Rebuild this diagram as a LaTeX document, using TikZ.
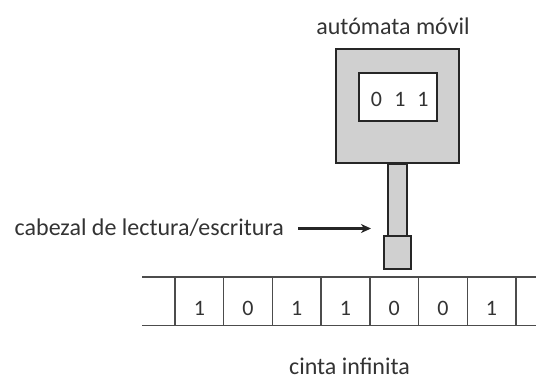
\documentclass[tikz,border=0pt]{standalone}
\usepackage{fontspec}
\setmainfont{Carlito}
\usetikzlibrary{arrows.meta}
\definecolor{bodygray}{RGB}{208,208,208}
\begin{document}
\begin{tikzpicture}[x=1pt,y=-1pt,
  part/.style={draw=black!85,line width=2pt,fill=bodygray,inner sep=0pt},
  lbl/.style={font=\fontsize{24}{28}\selectfont,text=black!80,inner sep=0pt},
  digit/.style={font=\fontsize{22}{26}\selectfont,text=black!80,inner sep=0pt},
  tapeline/.style={draw=black!70,line width=1.4pt}]
\useasboundingbox (0,0) rectangle (536,381);

% moving automaton with its state window
\node[part,minimum width=123pt,minimum height=114pt] (body) at (397.5,106) {};
\node[draw=black!85,line width=2pt,fill=white,minimum width=78pt,minimum height=48pt,inner sep=0pt] (state) at (398,97) {};
\node[digit] (state0) at (376.5,99) {0};
\node[digit] (state1) at (400,99) {1};
\node[digit] (state2) at (423,99) {1};
\node[lbl] (title) at (393,26) {autómata móvil};

% stem and read/write head
\node[part,minimum width=19pt,minimum height=74pt,anchor=north] (stem) at (397.5,163) {};
\node[part,minimum width=27pt,minimum height=33pt] (head) at (397.5,252.5) {};

% tape
\draw[tapeline] (142,277) -- (536,277);
\draw[tapeline] (142,325.5) -- (536,325.5);
\foreach \i in {0,...,7} {
  \draw[tapeline] (175+48.7*\i,277) -- (175+48.7*\i,325.5);
}
\foreach \d [count=\i from 0] in {1,0,1,1,0,0,1} {
  \node[digit] (cell\i) at (199.35+48.7*\i,308) {\d};
}
\node[lbl] (tape) at (349.5,366) {cinta infinita};

% label pointing at the head
\node[lbl,anchor=east] (headlbl) at (284,228) {cabezal de lectura/escritura};
\coordinate (tail) at (298,228.5);
\coordinate (tip) at (371,228.5);
\draw[line width=2.4pt,black!85,-{Stealth[length=10pt,width=9pt,inset=3pt]}] (tail) -- (tip);
\end{tikzpicture}
\end{document}
